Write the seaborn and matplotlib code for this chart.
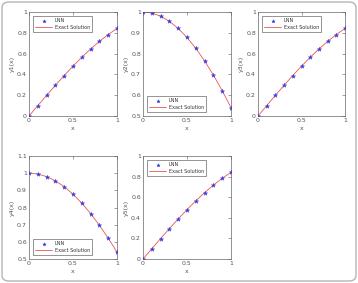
import matplotlib
matplotlib.use("Agg")
import matplotlib.pyplot as plt
import seaborn as sns
import numpy as np
import pandas as pd
from matplotlib.patches import FancyBboxPatch

x = [0.0, 0.1, 0.2, 0.3, 0.4, 0.5, 0.6, 0.7, 0.8, 0.9, 1.0]
y_sin = [0.0, 0.0998, 0.1987, 0.2955, 0.3894, 0.4794, 0.5646, 0.6442, 0.7174, 0.7833, 0.8415]
y_cos = [1.0, 0.9950, 0.9801, 0.9553, 0.9211, 0.8776, 0.8253, 0.7648, 0.6967, 0.6216, 0.5403]

series = [y_sin, y_cos, y_sin, y_cos, y_sin]
ylabels = ["y1(x)", "y2(x)", "y3(x)", "y4(x)", "y5(x)"]
xticks = [0, 0.5, 1]
xticklabels = ["0", "0.5", "1"]
yt_sin = [0, 0.2, 0.4, 0.6, 0.8, 1]
ytl_sin = ["0", "0.2", "0.4", "0.6", "0.8", "1"]
yt_cos2 = [0.5, 0.6, 0.7, 0.8, 0.9, 1]
ytl_cos2 = ["0.5", "0.6", "0.7", "0.8", "0.9", "1"]
yt_cos4 = [0.5, 0.6, 0.7, 0.8, 0.9, 1, 1.1]
ytl_cos4 = ["0.5", "0.6", "0.7", "0.8", "0.9", "1", "1.1"]
legend_labels = ["LNN", "Exact Solution"]

sns.set_style("white")
plt.rcParams['font.family'] = ['DejaVu Sans']

W, H = 358, 283
fig = plt.figure(figsize=(W / 100, H / 100), dpi=100)

# pixel boxes: left, top, right, bottom
boxes = [(29, 12, 117, 116), (143, 12, 231, 116), (258, 12, 345, 116),
         (29, 156, 117, 259), (143, 156, 231, 259)]
ylims = [(0, 1), (0.5, 1), (0, 1), (0.5, 1.1), (0, 1)]
yticksets = [(yt_sin, ytl_sin), (yt_cos2, ytl_cos2), (yt_sin, ytl_sin),
             (yt_cos4, ytl_cos4), (yt_sin, ytl_sin)]
legend_locs = ["upper left", "lower left", "upper left", "lower left", "upper left"]

fs = 4.5
mc = "#3a3ae0"
for i, (l, t, r, b) in enumerate(boxes):
    ax = fig.add_axes([l / W, 1 - b / H, (r - l) / W, (b - t) / H])
    df = pd.DataFrame({"x": x, "y": series[i]})
    sns.scatterplot(data=df, x="x", y="y", ax=ax, marker="*", color=mc,
                    s=10, linewidth=0.3, edgecolor=mc, label=legend_labels[0], zorder=3)
    sns.lineplot(data=df, x="x", y="y", ax=ax, color="#e8574f", linewidth=0.6,
                 label=legend_labels[1], zorder=2)
    ax.set_xlim(0, 1)
    ax.set_ylim(*ylims[i])
    ax.set_xticks(xticks)
    ax.set_xticklabels(xticklabels)
    ax.set_yticks(yticksets[i][0])
    ax.set_yticklabels(yticksets[i][1])
    ax.tick_params(direction="in", length=2, width=0.4, labelsize=fs, pad=1.5,
                   top=True, right=True, colors="#555555")
    ax.set_xlabel("x", fontsize=fs, labelpad=2, color="#555555")
    ax.set_ylabel(ylabels[i], fontsize=fs, labelpad=1.5, color="#555555")
    for sp in ax.spines.values():
        sp.set_linewidth(0.5)
        sp.set_color("#666666")
    leg = ax.legend(loc=legend_locs[i], fontsize=3.5, frameon=True, fancybox=False,
                    borderpad=0.5, handlelength=3.4, labelspacing=0.35,
                    borderaxespad=0.8, handletextpad=0.6, markerscale=0.8)
    leg.get_frame().set_edgecolor("#444444")
    leg.get_frame().set_linewidth(0.5)
    for txt in leg.get_texts():
        txt.set_color("#333333")

border = FancyBboxPatch((2 / W, 2 / H), 1 - 4 / W, 1 - 4 / H,
                        boxstyle="round,pad=0,rounding_size=0.02",
                        transform=fig.transFigure, fill=False,
                        edgecolor="#b5b5b5", linewidth=1.0)
fig.patches.append(border)

fig.savefig("out.png", dpi=100)
